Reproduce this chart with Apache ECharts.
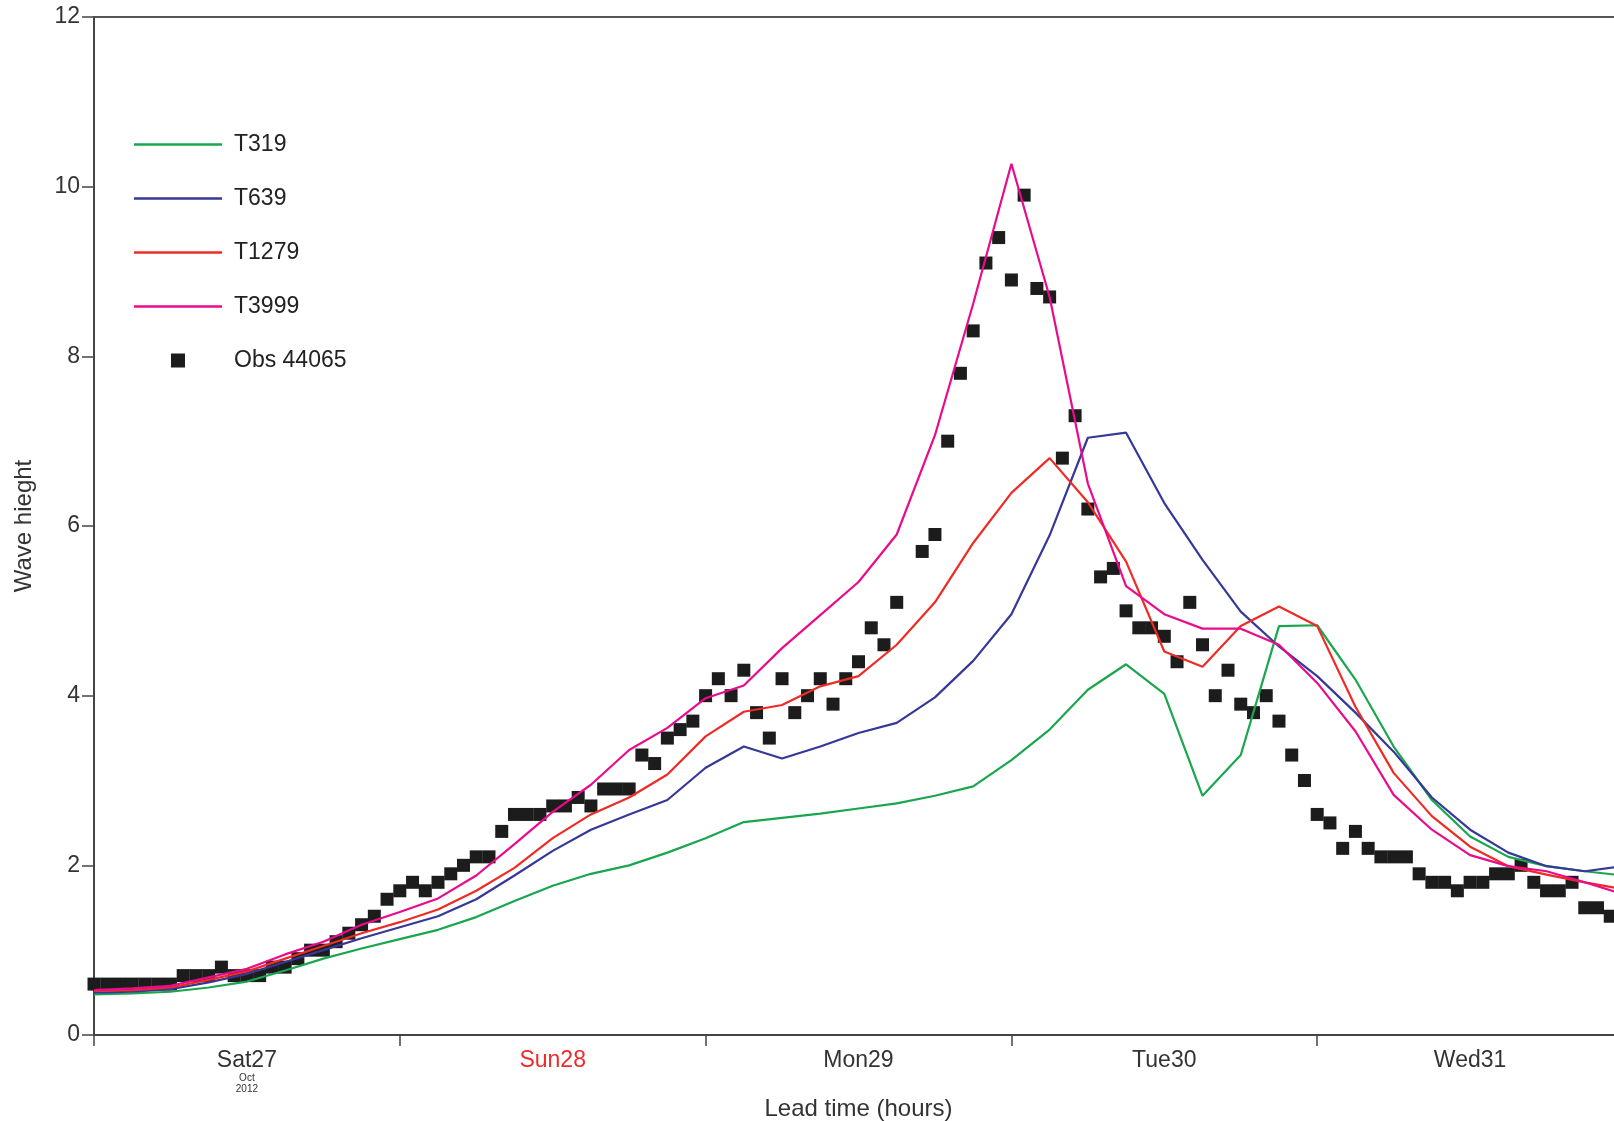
<!DOCTYPE html>
<html>
<head>
<meta charset="utf-8">
<script src="https://cdn.jsdelivr.net/npm/echarts@6/dist/echarts.min.js"></script>
<style>
html,body{margin:0;padding:0;background:#fff;overflow:hidden;}
#chart{width:1623px;height:1121px;}
</style>
</head>
<body>
<div id="chart"></div>
<script>
// Model output every 3 hours (lead time, hours)
const modelHours = [0,3,6,9,12,15,18,21,24,27,30,33,36,39,42,45,48,51,54,57,60,63,66,69,72,75,78,81,84,87,90,93,96,99,102,105,108,111,114,117,120];
const T319  = [0.48,0.49,0.51,0.56,0.63,0.76,0.90,1.02,1.13,1.24,1.39,1.58,1.76,1.90,2.00,2.15,2.32,2.51,2.56,2.61,2.67,2.73,2.82,2.93,3.24,3.60,4.07,4.37,4.02,2.82,3.30,4.82,4.83,4.19,3.40,2.77,2.34,2.10,1.99,1.93,1.88];
const T639  = [0.50,0.51,0.54,0.62,0.72,0.86,1.00,1.14,1.27,1.40,1.60,1.88,2.17,2.42,2.60,2.77,3.15,3.40,3.26,3.40,3.56,3.68,3.98,4.41,4.96,5.89,7.04,7.10,6.27,5.60,4.99,4.58,4.23,3.80,3.34,2.80,2.42,2.15,1.99,1.93,1.99];
const T1279 = [0.52,0.53,0.56,0.65,0.75,0.90,1.05,1.20,1.33,1.48,1.70,1.97,2.32,2.60,2.80,3.07,3.52,3.81,3.89,4.11,4.23,4.60,5.10,5.80,6.39,6.80,6.28,5.58,4.52,4.34,4.82,5.05,4.82,3.87,3.09,2.58,2.22,1.99,1.89,1.80,1.72];
const T3999 = [0.53,0.55,0.58,0.68,0.78,0.95,1.10,1.30,1.45,1.61,1.88,2.25,2.63,2.95,3.36,3.62,3.97,4.12,4.56,4.95,5.34,5.90,7.07,8.62,10.27,8.70,6.50,5.29,4.96,4.79,4.79,4.60,4.15,3.58,2.83,2.42,2.12,1.99,1.93,1.80,1.66];
// Hourly observations, hour 0 .. 120 (null = missing)
const obs44065 = [
 0.6,0.6,0.6,0.6,0.6,0.6,0.6,0.7,0.7,0.7,
 0.8,0.7,0.7,0.7,0.8,0.8,0.9,1.0,1.0,1.1,
 1.2,1.3,1.4,1.6,1.7,1.8,1.7,1.8,1.9,2.0,
 2.1,2.1,2.4,2.6,2.6,2.6,2.7,2.7,2.8,2.7,
 2.9,2.9,2.9,3.3,3.2,3.5,3.6,3.7,4.0,4.2,
 4.0,4.3,3.8,3.5,4.2,3.8,4.0,4.2,3.9,4.2,
 4.4,4.8,4.6,5.1,null,5.7,5.9,7.0,7.8,8.3,
 9.1,9.4,8.9,9.9,8.8,8.7,6.8,7.3,6.2,5.4,
 5.5,5.0,4.8,4.8,4.7,4.4,5.1,4.6,4.0,4.3,
 3.9,3.8,4.0,3.7,3.3,3.0,2.6,2.5,2.2,2.4,
 2.2,2.1,2.1,2.1,1.9,1.8,1.8,1.7,1.8,1.8,
 1.9,1.9,2.0,1.8,1.7,1.7,1.8,1.5,1.5,1.4,
 1.4];
const dayLabels = ['Sat27','Sun28','Mon29','Tue30','Wed31'];
const yTicks = [0,2,4,6,8,10,12];

const pairs = (ys) => modelHours.map((h,i)=>[h, ys[i]]);
const obsPairs = obs44065.map((v,h)=> v===null ? null : [h, v]).filter(p=>p);

const FONT = 'Liberation Sans, Arial, sans-serif';
const chart = echarts.init(document.getElementById('chart'), null, {renderer:'canvas'});

const LINE_ICON = 'path://M0,0H88V2.4H0Z';
const SQUARE_ICON = 'path://M0,0H10V10H0Z';

const lineSeries = (name, data, color) => ({
  name, type:'line', data: pairs(data), symbol:'none', showSymbol:false, xAxisIndex:0, yAxisIndex:0,
  lineStyle:{color, width:2.2}, itemStyle:{color}, z:3, animation:false
});

chart.setOption({
  animation:false,
  backgroundColor:'#fff',
  grid:{left:94, right:0, top:17, bottom:86, containLabel:false, outerBoundsMode:'none'},
  legend:{
    orient:'vertical', left:129, top:128,
    itemWidth:88, itemHeight:14, itemGap:31,
    symbolKeepAspect:true,
    textStyle:{fontFamily:FONT, fontSize:23, color:'#222', padding:[0,0,0,7]},
    data:[
      {name:'T319', icon:LINE_ICON},
      {name:'T639', icon:LINE_ICON},
      {name:'T1279', icon:LINE_ICON},
      {name:'T3999', icon:LINE_ICON},
      {name:'Obs 44065', icon:SQUARE_ICON}
    ]
  },
  xAxis:[
    { type:'value', min:0, max:120, interval:24, position:'bottom',
      axisLine:{show:true, onZero:false, lineStyle:{color:'#444', width:2}},
      axisTick:{show:true, length:11, inside:false, lineStyle:{color:'#444', width:1.5}},
      axisLabel:{show:false}, splitLine:{show:false},
      name:'Lead time (hours)', nameLocation:'middle', nameGap:62,
      nameTextStyle:{fontFamily:FONT, fontSize:24, color:'#333'}
    },
    { type:'value', min:0, max:120, interval:12, position:'bottom',
      axisLine:{show:false, onZero:false}, axisTick:{show:false}, splitLine:{show:false},
      axisLabel:{show:true, margin:14, fontFamily:FONT,
        formatter:(v)=>{
          if (v % 24 !== 12) return '';
          const i = (v-12)/24;
          const lab = dayLabels[i];
          if (i===0) return '{d|'+lab+'}\n{s|Oct}\n{s|2012}';
          if (i===1) return '{r|'+lab+'}';
          return '{d|'+lab+'}';
        },
        rich:{
          d:{fontFamily:FONT, fontSize:23, color:'#333', lineHeight:24},
          r:{fontFamily:FONT, fontSize:23, color:'#ee2a2a', lineHeight:24},
          s:{fontFamily:FONT, fontSize:10, color:'#333', lineHeight:11}
        }
      }
    },
    { type:'value', min:0, max:120, position:'top',
      axisLine:{show:true, onZero:false, lineStyle:{color:'#555', width:2}},
      axisTick:{show:false}, axisLabel:{show:false}, splitLine:{show:false}
    }
  ],
  yAxis:{
    type:'value', min:0, max:12, interval:2,
    axisLine:{show:true, onZero:false, lineStyle:{color:'#444', width:2}},
    axisTick:{show:true, length:12, lineStyle:{color:'#444', width:1.5}},
    axisLabel:{margin:14, fontFamily:FONT, fontSize:23, color:'#333',
      formatter:(v)=> yTicks.includes(v) ? String(v) : ''},
    splitLine:{show:false},
    name:'Wave hieght', nameLocation:'middle', nameGap:58,
    nameTextStyle:{fontFamily:FONT, fontSize:24, color:'#333'}
  },
  series:[
    lineSeries('T319', T319, '#1aa64e'),
    lineSeries('T639', T639, '#353896'),
    lineSeries('T1279', T1279, '#ee2b25'),
    lineSeries('T3999', T3999, '#ea0b8c'),
    { name:'Obs 44065', type:'scatter', data:obsPairs, symbol:'rect', symbolSize:13,
      xAxisIndex:0, yAxisIndex:0,
      itemStyle:{color:'#1c1c1c', opacity:1}, z:2, animation:false }
  ]
});
</script>
</body>
</html>
